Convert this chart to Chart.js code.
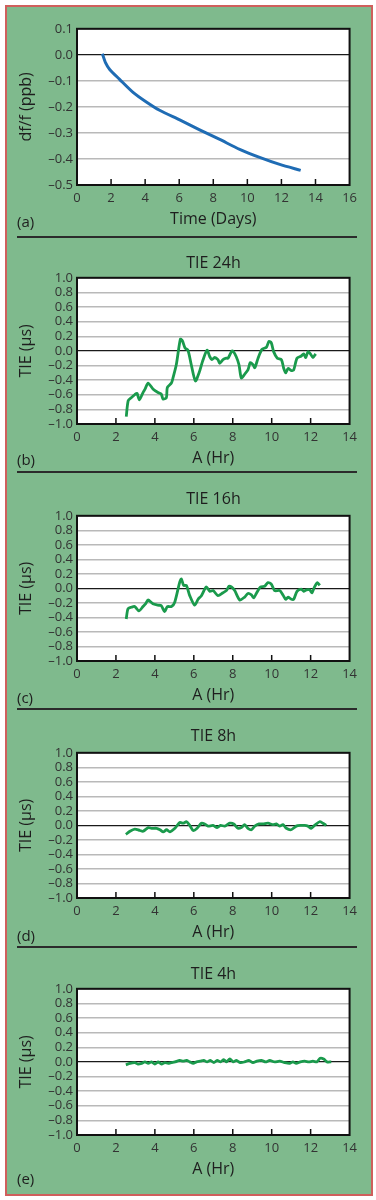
<!DOCTYPE html>
<html>
<head>
<meta charset="utf-8">
<script src="https://cdn.jsdelivr.net/npm/chart.js@4.4.0/dist/chart.umd.min.js"></script>
<style>
  body { margin: 0; background: #fff; font-family: "Open Sans", Lato, sans-serif; }
  #frame { position: absolute; left: 5px; top: 5px; width: 364px; height: 1187px;
           border: 2px solid #cf5f5c; background: #7fba8d; }
  .box { position: absolute; left: 10px; width: 352px; }
  .title { position: absolute; left: 77px; width: 273px; text-align: center;
           font-size: 16px; line-height: 18px; color: #1e1e1e; }
  .tag { position: absolute; left: 17px; font-size: 15px; line-height: 18px; color: #1e1e1e; }
  .sep { position: absolute; left: 17px; width: 340px; height: 2px; background: #2b2b2b; }
</style>
</head>
<body>
<div id="frame"></div>
<div id="page"></div>
<script>
// tick values
const dayTicks = [0, 2, 4, 6, 8, 10, 12, 14, 16];
const hrTicks = [0, 2, 4, 6, 8, 10, 12, 14];
const dfTicks = [0.1, 0.0, -0.1, -0.2, -0.3, -0.4, -0.5];
const tieTicks = [1.0, 0.8, 0.6, 0.4, 0.2, 0.0, -0.2, -0.4, -0.6, -0.8, -1.0];

// (a) frequency drift
const driftDays = [1.49, 1.68, 1.92, 2.5, 3.29, 4.07, 4.85, 6.03, 7.2, 8.38, 9.55, 10.72, 11.9, 13.13];
const driftPpb = [0.004, -0.031, -0.056, -0.094, -0.144, -0.181, -0.213, -0.25, -0.288, -0.325, -0.363, -0.394, -0.421, -0.444];

// (b) TIE 24h
const tie24X = [2.53, 2.63, 2.79, 2.96, 3.08, 3.2, 3.39, 3.5, 3.65, 3.9, 4.16, 4.33, 4.42, 4.59, 4.64, 4.85, 4.93, 5.1, 5.31, 5.41, 5.55, 5.7, 5.87, 6.08, 6.27, 6.44, 6.68, 6.82, 6.93, 7.07, 7.24, 7.33, 7.5, 7.67, 7.76, 7.93, 8.0, 8.18, 8.32, 8.44, 8.61, 8.78, 8.9, 9.04, 9.13, 9.3, 9.5, 9.73, 9.86, 9.98, 10.1, 10.29, 10.5, 10.62, 10.72, 10.84, 11.01, 11.13, 11.3, 11.52, 11.64, 11.75, 11.87, 11.99, 12.12, 12.26];
const tie24Y = [-0.9, -0.68, -0.64, -0.6, -0.58, -0.67, -0.57, -0.52, -0.44, -0.52, -0.57, -0.59, -0.66, -0.64, -0.5, -0.44, -0.37, -0.19, 0.16, 0.14, 0.04, 0.01, -0.19, -0.41, -0.3, -0.15, 0.01, -0.08, -0.12, -0.09, -0.12, -0.17, -0.12, -0.1, -0.1, -0.01, 0.0, -0.08, -0.19, -0.37, -0.32, -0.26, -0.16, -0.19, -0.23, -0.1, 0.02, 0.05, 0.13, 0.11, -0.01, -0.1, -0.12, -0.24, -0.3, -0.24, -0.27, -0.26, -0.1, -0.07, -0.04, -0.09, -0.01, -0.04, -0.09, -0.04];

// (c) TIE 16h
const tie16X = [2.53, 2.62, 2.79, 2.96, 3.18, 3.39, 3.53, 3.65, 3.9, 4.16, 4.33, 4.5, 4.64, 4.85, 5.02, 5.27, 5.36, 5.48, 5.62, 5.79, 6.04, 6.22, 6.39, 6.64, 6.82, 6.99, 7.24, 7.5, 7.67, 7.81, 7.93, 8.1, 8.36, 8.61, 8.78, 8.96, 9.08, 9.21, 9.42, 9.64, 9.81, 9.98, 10.15, 10.41, 10.58, 10.72, 10.84, 11.01, 11.13, 11.3, 11.52, 11.64, 11.78, 11.95, 12.07, 12.2, 12.35, 12.47];
const tie16Y = [-0.42, -0.28, -0.26, -0.25, -0.31, -0.25, -0.21, -0.16, -0.21, -0.23, -0.24, -0.32, -0.25, -0.25, -0.19, 0.08, 0.13, 0.04, 0.04, -0.1, -0.23, -0.15, -0.1, 0.02, -0.04, -0.03, -0.1, -0.06, -0.03, 0.03, 0.02, -0.03, -0.16, -0.12, -0.07, -0.09, -0.13, -0.07, 0.02, 0.03, 0.08, 0.06, -0.03, -0.03, -0.09, -0.15, -0.12, -0.15, -0.15, -0.04, -0.01, -0.04, -0.02, -0.02, -0.06, 0.02, 0.08, 0.04];

// (d) TIE 8h
const tie8X = [2.51, 2.72, 2.97, 3.23, 3.4, 3.66, 3.83, 4.09, 4.26, 4.43, 4.6, 4.77, 5.03, 5.28, 5.45, 5.63, 5.79, 5.97, 6.17, 6.39, 6.56, 6.73, 6.99, 7.2, 7.37, 7.59, 7.85, 8.05, 8.27, 8.44, 8.61, 8.78, 8.96, 9.13, 9.35, 9.56, 9.81, 10.07, 10.24, 10.41, 10.58, 10.75, 11.0, 11.26, 11.47, 11.69, 11.86, 12.03, 12.2, 12.46, 12.63, 12.8];
const tie8Y = [-0.124, -0.08, -0.05, -0.07, -0.08, -0.03, -0.04, -0.04, -0.06, -0.09, -0.06, -0.09, -0.04, 0.04, 0.03, 0.05, 0.0, -0.07, -0.04, 0.03, 0.02, -0.01, 0.0, -0.03, 0.0, -0.01, 0.03, 0.02, -0.04, -0.03, 0.01, -0.04, -0.06, -0.01, 0.02, 0.02, 0.03, 0.01, 0.02, -0.01, 0.01, -0.04, -0.06, -0.01, 0.0, 0.0, -0.01, -0.04, 0.0, 0.05, 0.03, 0.0];

// (e) TIE 4h
const tie4X = [2.51, 2.72, 2.97, 3.14, 3.32, 3.49, 3.66, 3.83, 4.0, 4.17, 4.34, 4.51, 4.68, 4.85, 5.03, 5.28, 5.45, 5.63, 5.79, 5.97, 6.14, 6.34, 6.51, 6.68, 6.85, 7.03, 7.2, 7.37, 7.54, 7.68, 7.85, 8.02, 8.19, 8.39, 8.61, 8.83, 9.04, 9.24, 9.47, 9.69, 9.9, 10.15, 10.41, 10.67, 10.92, 11.09, 11.26, 11.47, 11.69, 11.91, 12.12, 12.32, 12.49, 12.67, 12.84, 13.06];
const tie4Y = [-0.04, -0.02, -0.01, -0.03, -0.02, 0.0, -0.02, 0.0, -0.03, 0.0, -0.03, -0.01, -0.02, -0.01, 0.0, 0.02, 0.01, 0.02, 0.0, -0.02, 0.0, 0.01, 0.02, 0.0, 0.02, -0.01, 0.02, 0.0, 0.03, 0.0, 0.04, 0.0, 0.02, -0.01, 0.0, 0.02, -0.01, 0.01, 0.02, 0.0, 0.02, 0.0, 0.01, -0.01, -0.02, 0.0, -0.02, 0.0, 0.01, 0.0, 0.01, 0.0, 0.05, 0.04, 0.0, 0.0];

const panels = [
  { id: 'a', tag: '(a)', title: null, xs: driftDays, ys: driftPpb, xTicks: dayTicks, yTicks: dfTicks,
    xTitle: 'Time (Days)', yTitle: 'df/f (ppb)', color: '#1f6cb4', width: 3,
    plotTop: 25, plotBottom: 185, titleY: null, tagY: 221, sepY: 237 },
  { id: 'b', tag: '(b)', title: 'TIE 24h', xs: tie24X, ys: tie24Y, xTicks: hrTicks, yTicks: tieTicks,
    xTitle: 'A (Hr)', yTitle: 'TIE (\u00b5s)', color: '#1a9a4c', width: 2.8,
    plotTop: 274, plotBottom: 424, titleY: 262, tagY: 459, sepY: 472 },
  { id: 'c', tag: '(c)', title: 'TIE 16h', xs: tie16X, ys: tie16Y, xTicks: hrTicks, yTicks: tieTicks,
    xTitle: 'A (Hr)', yTitle: 'TIE (\u00b5s)', color: '#1a9a4c', width: 2.8,
    plotTop: 512, plotBottom: 661, titleY: 498, tagY: 697, sepY: 709 },
  { id: 'd', tag: '(d)', title: 'TIE 8h', xs: tie8X, ys: tie8Y, xTicks: hrTicks, yTicks: tieTicks,
    xTitle: 'A (Hr)', yTitle: 'TIE (\u00b5s)', color: '#1a9a4c', width: 2.8,
    plotTop: 749, plotBottom: 898, titleY: 735, tagY: 935, sepY: 947 },
  { id: 'e', tag: '(e)', title: 'TIE 4h', xs: tie4X, ys: tie4Y, xTicks: hrTicks, yTicks: tieTicks,
    xTitle: 'A (Hr)', yTitle: 'TIE (\u00b5s)', color: '#1a9a4c', width: 2.8,
    plotTop: 985, plotBottom: 1135, titleY: 973, tagY: 1178, sepY: null }
];

const fmt = v => {
  if (Math.abs(v) < 1e-9) return '0.0';
  return (v < 0 ? '\u2013' : '') + Math.abs(v).toFixed(1);
};

// white plot area, black frame, short inner ticks on the bottom axis
const plotFrame = {
  id: 'plotFrame',
  beforeDraw(chart) {
    const a = chart.chartArea, ctx = chart.ctx;
    ctx.save();
    ctx.fillStyle = '#fff';
    ctx.fillRect(a.left, a.top, a.right - a.left, a.bottom - a.top);
    ctx.restore();
  },
  afterDraw(chart) {
    const a = chart.chartArea, ctx = chart.ctx, xs = chart.scales.x;
    ctx.save();
    ctx.strokeStyle = '#111';
    ctx.lineWidth = 2;
    ctx.strokeRect(a.left, a.top, a.right - a.left, a.bottom - a.top);
    ctx.lineWidth = 1.5;
    ctx.beginPath();
    xs.ticks.forEach(t => {
      if (t.value <= xs.min || t.value >= xs.max) return;
      const px = xs.getPixelForValue(t.value);
      ctx.moveTo(px, a.bottom);
      ctx.lineTo(px, a.bottom - 6);
    });
    ctx.stroke();
    ctx.restore();
  }
};

const page = document.getElementById('page');
const FONT = '"Open Sans"';

panels.forEach(p => {
  const box = document.createElement('div');
  box.className = 'box';
  box.style.top = (p.plotTop - 8) + 'px';
  box.style.height = (p.plotBottom - p.plotTop + 52) + 'px';
  const canvas = document.createElement('canvas');
  box.appendChild(canvas);
  page.appendChild(box);

  if (p.title) {
    const t = document.createElement('div');
    t.className = 'title';
    t.style.top = (p.titleY - 9) + 'px';
    t.textContent = p.title;
    page.appendChild(t);
  }
  const tag = document.createElement('div');
  tag.className = 'tag';
  tag.style.top = (p.tagY - 9) + 'px';
  tag.textContent = p.tag;
  page.appendChild(tag);
  if (p.sepY) {
    const s = document.createElement('div');
    s.className = 'sep';
    s.style.top = (p.sepY - 1) + 'px';
    page.appendChild(s);
  }

  const yMin = Math.min(...p.yTicks), yMax = Math.max(...p.yTicks);
  const xMin = Math.min(...p.xTicks), xMax = Math.max(...p.xTicks);

  new Chart(canvas, {
    type: 'line',
    data: {
      datasets: [{
        data: p.xs.map((x, i) => ({ x: x, y: p.ys[i] })),
        borderColor: p.color,
        borderWidth: p.width,
        pointRadius: 0,
        tension: 0.25,
        fill: false
      }]
    },
    options: {
      responsive: true,
      maintainAspectRatio: false,
      animation: false,
      layout: { padding: { top: 8, right: 12, left: 0, bottom: 0 } },
      plugins: { legend: { display: false }, tooltip: { enabled: false } },
      scales: {
        x: {
          type: 'linear',
          min: xMin,
          max: xMax,
          afterBuildTicks: s => { s.ticks = p.xTicks.map(v => ({ value: v })); },
          afterFit: s => { s.height = 44; },
          grid: { display: false, drawTicks: false },
          border: { display: false },
          ticks: { padding: 5, color: '#333', font: { family: FONT, size: 13 },
                   maxRotation: 0, autoSkip: false, callback: v => String(v) },
          title: { display: true, text: p.xTitle, color: '#1e1e1e',
                   font: { family: FONT, size: 16 }, padding: { top: 0, bottom: 0 } }
        },
        y: {
          type: 'linear',
          min: yMin,
          max: yMax,
          afterBuildTicks: s => { s.ticks = p.yTicks.map(v => ({ value: v })); },
          afterFit: s => { s.width = 67; },
          grid: {
            drawTicks: false,
            color: c => (c.tick && Math.abs(c.tick.value) < 1e-9) ? '#1a1a1a' : '#b9b9b9',
            lineWidth: c => (c.tick && Math.abs(c.tick.value) < 1e-9) ? 1.2 : 1.5
          },
          border: { display: false },
          ticks: { padding: 4, color: '#333', font: { family: FONT, size: 13 },
                   autoSkip: false, callback: v => fmt(v) },
          title: { display: true, text: p.yTitle, color: '#1e1e1e',
                   font: { family: FONT, size: 16 }, padding: { top: 7, bottom: 0 } }
        }
      }
    },
    plugins: [plotFrame]
  });
});
</script>
</body>
</html>
